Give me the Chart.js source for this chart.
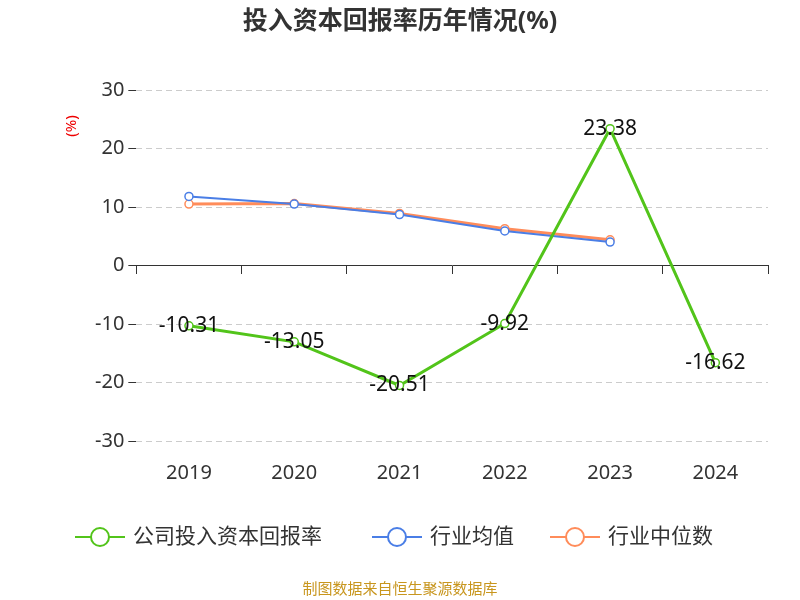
<!DOCTYPE html>
<html><head><meta charset="utf-8">
<script src="https://cdn.jsdelivr.net/npm/chart.js@4"></script>
<style>body{margin:0;background:#fff}#wrap{width:800px;height:600px}</style>
</head><body><div id="wrap"><canvas id="c"></canvas></div>
<script>
const years = ['2019', '2020', '2021', '2022', '2023', '2024'];
const companyRoic = [-10.31, -13.05, -20.51, -9.92, 23.38, -16.62];
const industryMean = [11.8, 10.5, 8.7, 5.9, 4.0, null];
const industryMedian = [10.5, 10.6, 8.9, 6.3, 4.4, null];
const yTicks = [-30, -20, -10, 0, 10, 20, 30];

const names = ['公司投入资本回报率', '行业均值', '行业中位数'];
const colors = ['#52c41a', '#4a7ee6', '#ff8c5a'];
const font = '"Noto Sans", "Noto Sans CJK SC", sans-serif';

const decor = {
  id: 'decor',
  afterDraw(chart) {
    const c = chart.ctx;
    c.save();
    // title
    c.fillStyle = '#333';
    c.font = 'bold 25px ' + font;
    c.textAlign = 'center';
    c.textBaseline = 'middle';
    c.fillText('投入资本回报率历年情况(%)', 400, 22);
    // unit
    c.save();
    c.translate(72, 126);
    c.rotate(-Math.PI / 2);
    c.fillStyle = '#e00';
    c.font = '15px ' + font;
    c.fillText('(%)', 0, 0);
    c.restore();
    // value labels
    const meta = chart.getDatasetMeta(0);
    c.fillStyle = '#111';
    c.font = '21px ' + font;
    meta.data.forEach((p, i) => c.fillText(companyRoic[i].toFixed(2), p.x, p.y));
    // legend
    const items = [[75, 0], [372, 1], [550, 2]];
    c.font = '21px ' + font;
    c.textAlign = 'left';
    items.forEach(([x, k]) => {
      c.strokeStyle = colors[k];
      c.lineWidth = 2;
      c.beginPath(); c.moveTo(x, 537); c.lineTo(x + 50, 537); c.stroke();
      c.beginPath(); c.arc(x + 25, 537, 9, 0, Math.PI * 2);
      c.fillStyle = '#fff'; c.fill(); c.stroke();
      c.fillStyle = '#333';
      c.fillText(names[k], x + 58, 537);
    });
    // footer
    c.textAlign = 'center';
    c.fillStyle = '#c8961e';
    c.font = '15px ' + font;
    c.fillText('制图数据来自恒生聚源数据库', 400, 590);
    c.restore();
  }
};

function ds(label, data, color, width) {
  return {
    label, data, borderColor: color, backgroundColor: '#fff',
    borderWidth: width, pointRadius: 4, pointBorderWidth: 1.5,
    pointBackgroundColor: '#fff', pointBorderColor: color, tension: 0
  };
}

new Chart(document.getElementById('c'), {
  type: 'line',
  data: {
    labels: years,
    datasets: [
      ds(names[0], companyRoic, colors[0], 3),
      ds(names[1], industryMean, colors[1], 2),
      ds(names[2], industryMedian, colors[2], 3)
    ]
  },
  options: {
    responsive: true, maintainAspectRatio: false, animation: false,
    layout: { padding: { top: 90, bottom: 103, left: 91, right: 32 } },
    plugins: { legend: { display: false }, tooltip: { enabled: false } },
    scales: {
      x: {
        position: { y: 0 }, offset: true,
        grid: { display: true, drawOnChartArea: false, drawTicks: true, tickLength: 8, color: '#333', offset: true },
        border: { color: '#333', width: 1 },
        ticks: { display: false }
      },
      x2: {
        type: 'category', labels: years, position: 'bottom', offset: true,
        grid: { display: false },
        border: { display: false },
        ticks: { color: '#333', font: { size: 20, family: font }, padding: 12 }
      },
      y: {
        min: -30, max: 30,
        afterBuildTicks: a => { a.ticks = yTicks.map(v => ({ value: v })); },
        border: { display: false, dash: [6, 4] },
        grid: { color: '#ccc', tickColor: '#333', tickLength: 8, lineWidth: 1 },
        ticks: { color: '#333', font: { size: 20, family: font }, padding: 4 }
      }
    }
  },
  plugins: [decor]
});
</script></body></html>
